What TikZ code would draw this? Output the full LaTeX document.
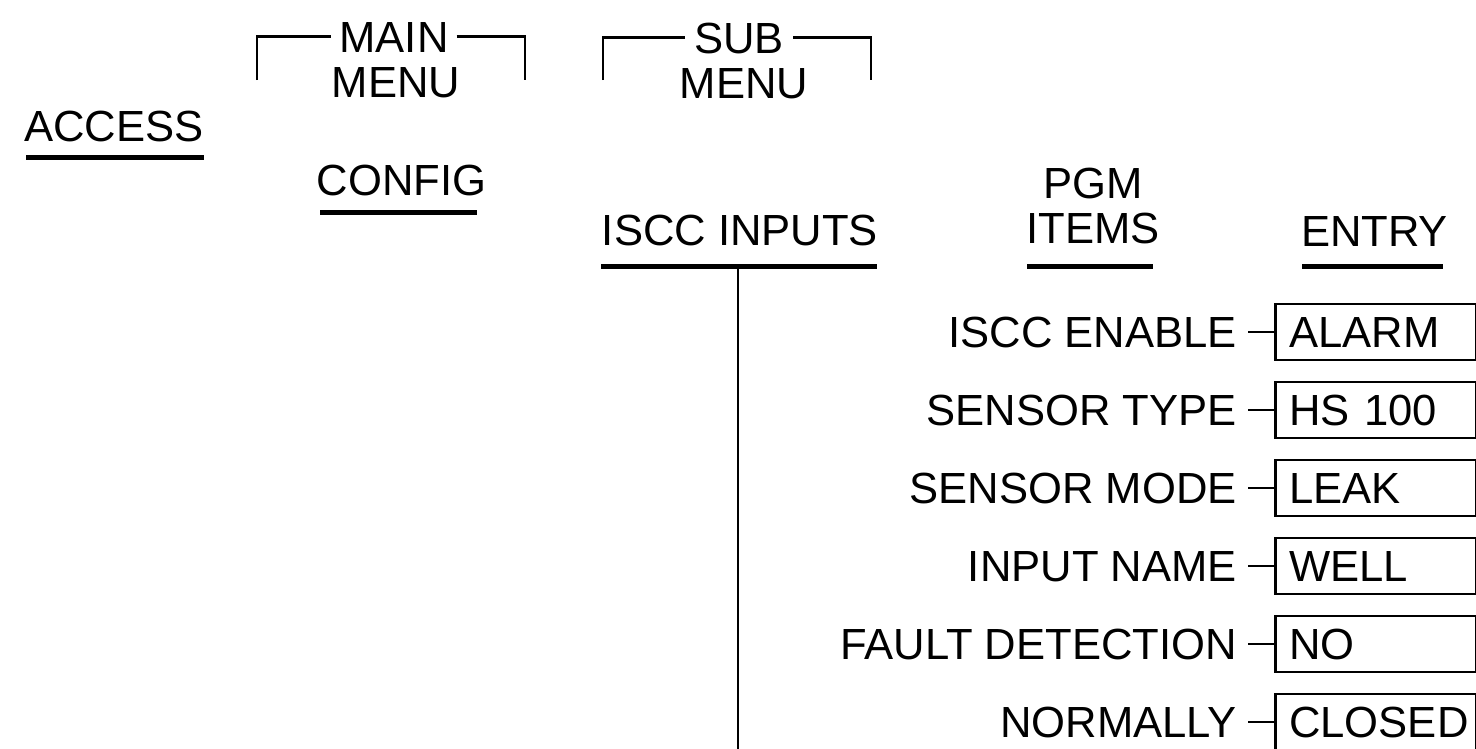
\documentclass[tikz,border=0pt]{standalone}
\usepackage{fontspec}
\setmainfont{Liberation Sans}
\begin{document}
\begin{tikzpicture}[x=1pt,y=-1pt,
  every node/.style={font=\fontsize{43.6pt}{45pt}\selectfont, inner sep=0pt, text height=31.2pt, text depth=0pt},
  thinline/.style={line width=2.5pt},
  uline/.style={line width=5pt},
  item/.style={anchor=east, inner xsep=11pt},
  entrybox/.style={draw, line width=2.5pt, anchor=west, minimum width=201pt, minimum height=56pt, text width=173pt, align=left, inner xsep=14pt},
  head/.style={anchor=base}
]
\useasboundingbox (0,0) rectangle (1476,748);

% left column
\node[head] (access) at (114,141) {ACCESS};
\draw[uline] (26,157) -- (204,157);

% main menu
\node[head, inner xsep=8pt] (main) at (394,52) {MAIN};
\node[head] (menu1) at (396,97) {MENU};
\coordinate (mainL) at (257,80);
\coordinate (mainR) at (525,80);
\draw[thinline] (mainL) |- (main.west);
\draw[thinline] (main.east) -| (mainR);
\node[head] (config) at (401.5,195) {CONFIG};
\draw[uline] (320,212) -- (477,212);

% sub menu
\node[head, inner xsep=9pt] (sub) at (739,53) {SUB};
\node[head] (menu2) at (744,98) {MENU};
\coordinate (subL) at (603,80);
\coordinate (subR) at (871,80);
\draw[thinline] (subL) |- (sub.west);
\draw[thinline] (sub.east) -| (subR);
\node[head] (iscc) at (740,245) {ISCC INPUTS};
\draw[uline] (601,266) -- (877,266);
\coordinate (isccU) at (738,266);
\coordinate (isccB) at (738,752);
\draw[thinline] (isccU) -- (isccB);

% column headings
\node[head] (pgm) at (1093,198) {PGM};
\node[head] (items) at (1093,243) {ITEMS};
\draw[uline] (1027,266) -- (1153,266);
\node[head] (entry) at (1374.5,246) {ENTRY};
\draw[uline] (1302,266) -- (1443,266);

% rows
\node[item] (i1) at (1248,332) {ISCC ENABLE};
\node[entrybox] (e1) at (1274,332) {ALARM};
\draw[thinline] (i1) -- (e1);
\node[item] (i2) at (1248,410) {SENSOR TYPE};
\node[entrybox] (e2) at (1274,410) {HS 100};
\draw[thinline] (i2) -- (e2);
\node[item] (i3) at (1248,488) {SENSOR MODE};
\node[entrybox] (e3) at (1274,488) {LEAK};
\draw[thinline] (i3) -- (e3);
\node[item] (i4) at (1248,566) {INPUT NAME};
\node[entrybox] (e4) at (1274,566) {WELL};
\draw[thinline] (i4) -- (e4);
\node[item] (i5) at (1248,644) {FAULT DETECTION};
\node[entrybox] (e5) at (1274,644) {NO};
\draw[thinline] (i5) -- (e5);
\node[item] (i6) at (1248,722) {NORMALLY};
\node[entrybox] (e6) at (1274,722) {CLOSED};
\draw[thinline] (i6) -- (e6);
\end{tikzpicture}
\end{document}
